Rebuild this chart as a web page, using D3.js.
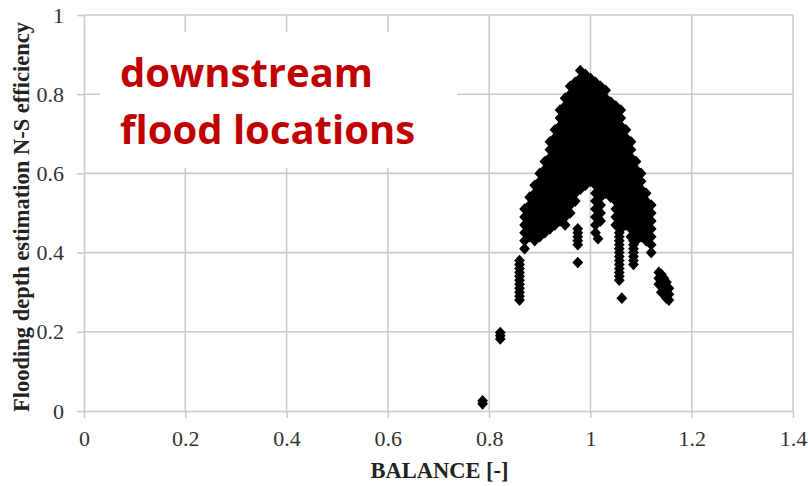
<!DOCTYPE html>
<html>
<head>
<meta charset="utf-8">
<script src="https://cdn.jsdelivr.net/npm/d3@7"></script>
<style>
  html, body { margin: 0; padding: 0; background: #fff; }
  svg { display: block; }
</style>
</head>
<body>
<svg id="chart" width="808" height="486"></svg>
<script>
// Axis ticks and their printed labels
const xTickValues = [0, 0.2, 0.4, 0.6, 0.8, 1, 1.2, 1.4];
const xTickLabels = ["0", "0.2", "0.4", "0.6", "0.8", "1", "1.2", "1.4"];
const yTickValues = [0, 0.2, 0.4, 0.6, 0.8, 1];
const yTickLabels = ["0", "0.2", "0.4", "0.6", "0.8", "1"];

// BALANCE value of each run of simulations (one column of points each)
const balanceColumns = [
  0.787, 0.822, 0.86, 0.87, 0.88, 0.89, 0.90, 0.91, 0.92, 0.93, 0.94, 0.95,
  0.96, 0.97, 0.975, 0.98, 0.99, 1.00, 1.01, 1.015, 1.02, 1.03, 1.04, 1.05,
  1.057, 1.06, 1.062, 1.07, 1.08, 1.085, 1.09, 1.10, 1.11, 1.12,
  1.135, 1.14, 1.145, 1.15, 1.155
];

// N-S efficiency values found for each BALANCE column above
const nseByColumn = [
  [0.018, 0.026],
  [0.182, 0.19, 0.198],
  [0.28, 0.29, 0.30, 0.31, 0.32, 0.33, 0.34, 0.35, 0.36, 0.37, 0.38],
  [0.51, 0.49, 0.47, 0.45, 0.43, 0.41],
  [0.54, 0.52, 0.50, 0.48, 0.46, 0.44],
  [0.57, 0.55, 0.53, 0.51, 0.49, 0.47, 0.45, 0.43],
  [0.60, 0.58, 0.56, 0.54, 0.52, 0.50, 0.48, 0.46, 0.44],
  [0.63, 0.61, 0.59, 0.57, 0.55, 0.53, 0.51, 0.49, 0.47, 0.45],
  [0.68, 0.66, 0.64, 0.62, 0.60, 0.58, 0.56, 0.54, 0.52, 0.50, 0.48, 0.46],
  [0.71, 0.69, 0.67, 0.65, 0.63, 0.61, 0.59, 0.57, 0.55, 0.53, 0.51, 0.49, 0.47],
  [0.76, 0.74, 0.72, 0.70, 0.68, 0.66, 0.64, 0.62, 0.60, 0.58, 0.56, 0.54, 0.52, 0.50, 0.48],
  [0.79, 0.77, 0.75, 0.73, 0.71, 0.69, 0.67, 0.65, 0.63, 0.61, 0.59, 0.57, 0.55, 0.53, 0.51, 0.49, 0.47],
  [0.82, 0.80, 0.78, 0.76, 0.74, 0.72, 0.70, 0.68, 0.66, 0.64, 0.62, 0.60, 0.58, 0.56, 0.54, 0.52, 0.50],
  [0.83, 0.81, 0.79, 0.77, 0.75, 0.73, 0.71, 0.69, 0.67, 0.65, 0.63, 0.61, 0.59, 0.57, 0.55, 0.53],
  [0.375, 0.42, 0.43, 0.44, 0.45, 0.46],
  [0.86, 0.84, 0.82, 0.80, 0.78, 0.76, 0.74, 0.72, 0.70, 0.68, 0.66, 0.64, 0.62, 0.60, 0.58, 0.56],
  [0.85, 0.83, 0.81, 0.79, 0.77, 0.75, 0.73, 0.71, 0.69, 0.67, 0.65, 0.63, 0.61, 0.59, 0.57],
  [0.84, 0.82, 0.80, 0.78, 0.76, 0.74, 0.72, 0.70, 0.68, 0.66, 0.64, 0.62, 0.60, 0.58],
  [0.83, 0.81, 0.79, 0.77, 0.75, 0.73, 0.71, 0.69, 0.67, 0.65, 0.63, 0.61, 0.59, 0.57, 0.55, 0.53, 0.51, 0.49, 0.47, 0.45],
  [0.435],
  [0.82, 0.80, 0.78, 0.76, 0.74, 0.72, 0.70, 0.68, 0.66, 0.64, 0.62, 0.60, 0.58, 0.56, 0.54, 0.52, 0.50, 0.48],
  [0.81, 0.79, 0.77, 0.75, 0.73, 0.71, 0.69, 0.67, 0.65, 0.63, 0.61, 0.59, 0.57, 0.55],
  [0.78, 0.76, 0.74, 0.72, 0.70, 0.68, 0.66, 0.64, 0.62, 0.60, 0.58, 0.56, 0.54],
  [0.77, 0.75, 0.73, 0.71, 0.69, 0.67, 0.65, 0.63, 0.61, 0.59, 0.57, 0.55, 0.53, 0.51, 0.49, 0.47],
  [0.33, 0.34, 0.35, 0.36, 0.37, 0.38, 0.39, 0.40, 0.41, 0.42, 0.43, 0.44, 0.45],
  [0.76, 0.74, 0.72, 0.70, 0.68, 0.66, 0.64, 0.62, 0.60, 0.58, 0.56, 0.54, 0.52, 0.50, 0.48, 0.46],
  [0.285],
  [0.71, 0.69, 0.67, 0.65, 0.63, 0.61, 0.59, 0.57, 0.55, 0.53, 0.51, 0.49, 0.47],
  [0.68, 0.66, 0.64, 0.62, 0.60, 0.58, 0.56, 0.54, 0.52, 0.50, 0.48, 0.46, 0.44],
  [0.37, 0.38, 0.39, 0.40, 0.41, 0.42, 0.43],
  [0.63, 0.61, 0.59, 0.57, 0.55, 0.53, 0.51, 0.49, 0.47, 0.45, 0.43],
  [0.60, 0.58, 0.56, 0.54, 0.52, 0.50, 0.48, 0.46, 0.44],
  [0.55, 0.53, 0.51, 0.49, 0.47, 0.45, 0.43],
  [0.52, 0.50, 0.48, 0.46, 0.44, 0.42, 0.40],
  [0.35, 0.335, 0.32],
  [0.345, 0.33, 0.315, 0.30],
  [0.335, 0.32, 0.305, 0.295],
  [0.325, 0.31, 0.295, 0.285],
  [0.31, 0.295, 0.28]
];

const annotationLines = ["downstream", "flood locations"];
const xTitle = "BALANCE [-]";
const yTitle = "Flooding depth estimation N-S efficiency";

const points = balanceColumns.flatMap((b, i) =>
  nseByColumn[i].map(v => ({ balance: b, nse: v })));

const svg = d3.select("#chart");
const plot = { left: 84, right: 793, top: 15, bottom: 411 };

const x = d3.scaleLinear().domain([0, 1.4]).range([plot.left, plot.right]);
const y = d3.scaleLinear().domain([0, 1]).range([plot.bottom, plot.top]);

const gridColor = "#cbcbcb";
const serif = "'Liberation Serif', 'Times New Roman', serif";

// Gridlines
const grid = svg.append("g");
grid.selectAll("line.v").data(xTickValues.slice(1)).join("line")
  .attr("x1", d => x(d)).attr("x2", d => x(d))
  .attr("y1", plot.top).attr("y2", plot.bottom)
  .attr("stroke", gridColor).attr("stroke-width", 1.6);
grid.selectAll("line.h").data(yTickValues.slice(1)).join("line")
  .attr("x1", plot.left).attr("x2", plot.right)
  .attr("y1", d => y(d)).attr("y2", d => y(d))
  .attr("stroke", gridColor).attr("stroke-width", 1.6);

// Axes
const xAxis = svg.append("g")
  .attr("transform", `translate(0,${plot.bottom})`)
  .call(d3.axisBottom(x).tickValues(xTickValues)
    .tickFormat((d, i) => xTickLabels[i])
    .tickSizeInner(7).tickSizeOuter(0).tickPadding(12));
const yAxis = svg.append("g")
  .attr("transform", `translate(${plot.left},0)`)
  .call(d3.axisLeft(y).tickValues(yTickValues)
    .tickFormat((d, i) => yTickLabels[i])
    .tickSizeInner(7).tickSizeOuter(0).tickPadding(13));

[xAxis, yAxis].forEach(g => {
  g.attr("font-family", null).attr("font-size", null);
  g.select(".domain").attr("stroke", gridColor).attr("stroke-width", 1.6);
  g.selectAll(".tick line").attr("stroke", gridColor).attr("stroke-width", 1.6);
  g.selectAll(".tick text")
    .style("font-family", serif).style("font-size", "22px").attr("fill", "#333");
});

// Axis titles
svg.append("text")
  .attr("x", (plot.left + plot.right) / 2 + 1).attr("y", 478)
  .attr("text-anchor", "middle")
  .style("font-family", serif).style("font-weight", "bold").style("font-size", "22.5px")
  .attr("fill", "#222")
  .text(xTitle);
svg.append("text")
  .attr("transform", `translate(29,${(plot.top + plot.bottom) / 2 + 4}) rotate(-90)`)
  .attr("text-anchor", "middle")
  .style("font-family", serif).style("font-weight", "bold").style("font-size", "22.5px")
  .attr("fill", "#222")
  .text(yTitle);

// Annotation box
svg.append("rect")
  .attr("x", 100).attr("y", 32).attr("width", 357).attr("height", 136)
  .attr("fill", "#fff");
svg.append("g").selectAll("text").data(annotationLines).join("text")
  .attr("x", 120).attr("y", (d, i) => 87 + i * 57)
  .style("font-family", "'Open Sans', sans-serif").style("font-weight", "700")
  .style("font-size", "40px").attr("fill", "#c00000")
  .text(d => d);

// Scatter markers (diamonds)
const diamond = "M0,-5.8L5.4,0L0,5.8L-5.4,0Z";
svg.append("g").selectAll("path").data(points).join("path")
  .attr("transform", d => `translate(${x(d.balance)},${y(d.nse)})`)
  .attr("d", diamond)
  .attr("fill", "#000");
</script>
</body>
</html>
